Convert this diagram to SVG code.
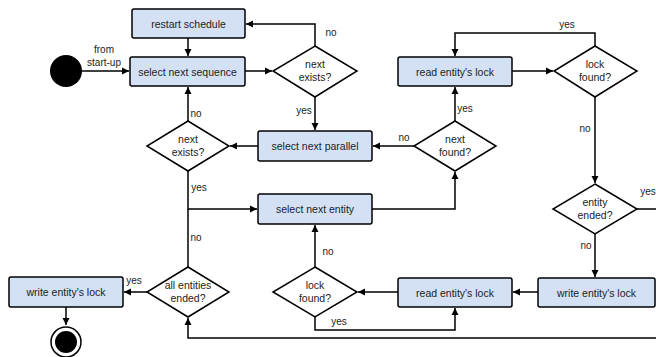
<svg xmlns="http://www.w3.org/2000/svg" width="656" height="357" viewBox="0 0 656 357">
<defs>
<marker id="arr" markerWidth="8" markerHeight="8" refX="7" refY="4" orient="auto" markerUnits="userSpaceOnUse">
<path d="M0,0.5 L7,4 L0,7.5 Z" fill="#000"/>
</marker>
<style>
.box{fill:#d4e1f5;stroke:#000;stroke-width:1.5}
.dia{fill:#fff;stroke:#000;stroke-width:1.5}
.t{font-family:"Liberation Sans",Arial,sans-serif;font-size:10.5px;fill:#222;text-anchor:middle}
.l{font-family:"Liberation Sans",Arial,sans-serif;font-size:10px;fill:#222;text-anchor:middle}
.c{fill:none;stroke:#000;stroke-width:1.5}
.a{marker-end:url(#arr)}
</style>
</defs>
<rect width="656" height="357" fill="#fff"/>
<g id="connectors">
<path class="c a" d="M82,71 H129"/>
<path class="c a" d="M188,38 V56"/>
<path class="c a" d="M245,71 H272"/>
<path class="c a" d="M315,46 V24 H246"/>
<path class="c a" d="M315,97 V130"/>
<path class="c a" d="M258,146 H230"/>
<path class="c a" d="M188,121 V87"/>
<path class="c a" d="M414,146 H373"/>
<path class="c a" d="M455,121 V87"/>
<path class="c a" d="M512,71 H553"/>
<path class="c a" d="M595,46 V33 H455 V56"/>
<path class="c a" d="M595,97 V183"/>
<path class="c a" d="M595,234 V277"/>
<path class="c a" d="M637,209 H664 V338 H188 V318"/>
<path class="c a" d="M538,292 H513"/>
<path class="c a" d="M398,292 H358"/>
<path class="c a" d="M315,317 V330 H455 V308"/>
<path class="c a" d="M315,267 V225"/>
<path class="c a" d="M372,209 H455 V172"/>
<path class="c a" d="M188,171 V209 H257"/>
<path class="c" d="M188,267 V209"/>
<path class="c a" d="M147,292 H124"/>
<path class="c a" d="M66,307 V325"/>
<text class="l" x="104" y="52.5">from</text>
<text class="l" x="104" y="65.5">start-up</text>
<text class="l" x="331" y="35.5">no</text>
<text class="l" x="304" y="113.5">yes</text>
<text class="l" x="196" y="116.5">no</text>
<text class="l" x="567" y="27.5">yes</text>
<text class="l" x="465" y="111.5">yes</text>
<text class="l" x="404" y="140.5">no</text>
<text class="l" x="585" y="131.5">no</text>
<text class="l" x="648" y="194.5">yes</text>
<text class="l" x="586" y="248.5">no</text>
<text class="l" x="199" y="190.5">yes</text>
<text class="l" x="196" y="240.5">no</text>
<text class="l" x="328" y="254.5">no</text>
<text class="l" x="339" y="324.5">yes</text>
<text class="l" x="134" y="283.5">yes</text>
</g>
<g id="start"><circle cx="66" cy="71" r="16" fill="#000"/></g>
<g id="end"><circle cx="66" cy="342" r="15" fill="#fff" stroke="#000" stroke-width="1.5"/><circle cx="66" cy="342" r="11" fill="#000"/></g>
<g id="restart"><rect class="box" x="132" y="9" width="113" height="29" rx="2"/><text class="t" x="188.5" y="27.5">restart schedule</text></g>
<g id="selseq"><rect class="box" x="130" y="57" width="115" height="29" rx="2"/><text class="t" x="187.5" y="75.5">select next sequence</text></g>
<g id="nextexists1"><polygon class="dia" points="315,46 357,71 315,97 273,71"/><text class="t" x="315" y="67.5">next</text><text class="t" x="315" y="80.5">exists?</text></g>
<g id="selpar"><rect class="box" x="258" y="131" width="114" height="30" rx="2"/><text class="t" x="315" y="149.5">select next parallel</text></g>
<g id="nextexists2"><polygon class="dia" points="188,121 229,146 188,171 147,146"/><text class="t" x="188" y="142.5">next</text><text class="t" x="188" y="155.5">exists?</text></g>
<g id="readlock1"><rect class="box" x="398" y="57" width="114" height="29" rx="2"/><text class="t" x="455" y="75.5">read entity's lock</text></g>
<g id="lockfound1"><polygon class="dia" points="595,46 637,71 595,97 554,71"/><text class="t" x="595" y="67.5">lock</text><text class="t" x="595" y="80.5">found?</text></g>
<g id="nextfound"><polygon class="dia" points="455,121 496,146 455,171 414,146"/><text class="t" x="455" y="142.5">next</text><text class="t" x="455" y="155.5">found?</text></g>
<g id="entended"><polygon class="dia" points="595,184 637,209 595,234 553,209"/><text class="t" x="595" y="205.5">entity</text><text class="t" x="595" y="218.5">ended?</text></g>
<g id="selent"><rect class="box" x="258" y="194" width="114" height="30" rx="2"/><text class="t" x="315" y="212.5">select next entity</text></g>
<g id="writelock1"><rect class="box" x="538" y="278" width="117" height="29" rx="2"/><text class="t" x="596.5" y="296.5">write entity's lock</text></g>
<g id="readlock2"><rect class="box" x="398" y="278" width="114" height="29" rx="2"/><text class="t" x="455" y="296.5">read entity's lock</text></g>
<g id="lockfound2"><polygon class="dia" points="315,267 357,292 315,317 273,292"/><text class="t" x="315" y="288.5">lock</text><text class="t" x="315" y="301.5">found?</text></g>
<g id="allended"><polygon class="dia" points="188,267 229,292 188,317 147,292"/><text class="t" x="188" y="288.5">all entities</text><text class="t" x="188" y="301.5">ended?</text></g>
<g id="writelock2"><rect class="box" x="9" y="277" width="114" height="30" rx="2"/><text class="t" x="66" y="295.5">write entity's lock</text></g>
</svg>
